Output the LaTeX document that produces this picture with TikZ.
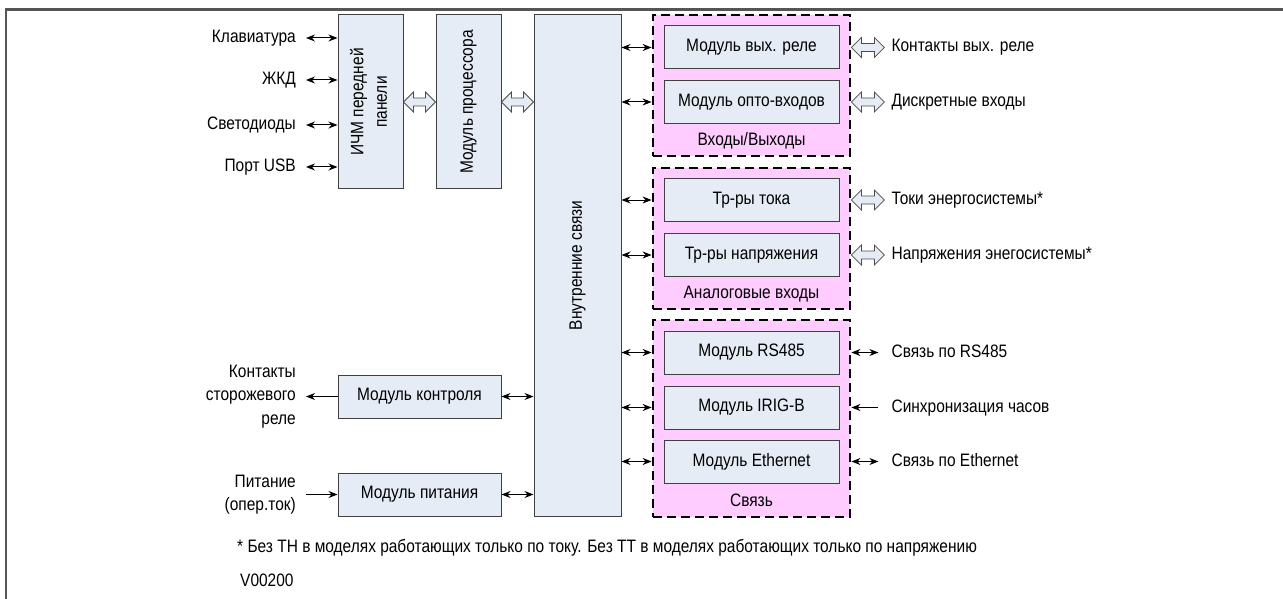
\documentclass[tikz,border=0pt]{standalone}
\usepackage{fontspec}
\setmainfont{Liberation Sans}[FakeStretch=0.86]
\usepackage{graphicx}
\usetikzlibrary{arrows.meta, calc}

\definecolor{blokfon}{HTML}{E6ECF5}
\definecolor{grupfon}{HTML}{FFCCFF}
\definecolor{ramka}{HTML}{555555}

% Широкая двусторонняя стрелка (шина)
\newcommand{\shina}[2]{%
  \draw[shinastyle] let \p1=(#1), \p2=(#2) in
    (\x1,\y1) -- (\x1+10pt,\y1+10pt) -- (\x1+10pt,\y1+4pt) -- (\x2-10pt,\y1+4pt)
    -- (\x2-10pt,\y1+10pt) -- (\x2,\y1) -- (\x2-10pt,\y1-10pt) -- (\x2-10pt,\y1-4pt)
    -- (\x1+10pt,\y1-4pt) -- (\x1+10pt,\y1-10pt) -- cycle;}

\begin{document}
\begin{tikzpicture}[
    x=1pt, y=-1pt,
    font=\fontsize{18}{23.5}\selectfont,
    >={Stealth[length=9pt,width=7pt]},
    blok/.style={draw=black!75, line width=1pt, fill=blokfon, inner sep=0pt,
        minimum width=175pt, minimum height=43pt},
    gruppa/.style={draw=black, line width=2.8pt, dash pattern=on 9pt off 5pt,
        fill=grupfon, inner sep=0pt, minimum width=197pt},
    metka/.style={inner xsep=10pt, inner ysep=0pt},
    stroka/.style={metka, text height=13pt, text depth=4pt},
    svyaz/.style={<->, line width=1pt},
    shinastyle/.style={draw=black!70, line width=0.8pt, fill=blokfon}
]

\useasboundingbox (0,0) rectangle (1283,599);

% Рамка
\draw[ramka, line width=2.4pt] (6,599) -- (6,9.5) -- (1283,9.5);

% Центральные блоки
\node[blok, minimum width=65pt, minimum height=174pt] (ichm) at (370.5,102)
    {\rotatebox{90}{\begin{tabular}{@{}c@{}}ИЧМ передней\\панели\end{tabular}}};
\node[blok, minimum width=65pt, minimum height=174pt] (cpu) at (468.5,102)
    {\rotatebox{90}{Модуль процессора}};
\node[blok, minimum width=87pt, minimum height=501pt] (vnutr) at (577.5,265.5)
    {\rotatebox{90}{Внутренние связи}};
\node[blok, minimum width=163pt] (kontrol) at (419.5,396.5) {Модуль контроля};
\node[blok, minimum width=163pt] (pitmod) at (419.5,494.5) {Модуль питания};

% Группы модулей
\node[gruppa, minimum height=141pt] (vv) at (751.5,85.5) {};
\node[gruppa, minimum height=141pt] (av) at (751.5,238.5) {};
\node[gruppa, minimum height=197pt] (sv) at (751.5,418.5) {};
\node[anchor=base] at ([yshift=12pt]vv.south) {Входы/Выходы};
\node[anchor=base] at ([yshift=12pt]av.south) {Аналоговые входы};
\node[anchor=base] at ([yshift=12pt]sv.south) {Связь};

\node[blok] (rele) at (751.5,47.5) {Модуль вых. реле};
\node[blok] (opto) at (751.5,102) {Модуль опто-входов};
\node[blok] (tt) at (751.5,200) {Тр-ры тока};
\node[blok] (tn) at (751.5,255) {Тр-ры напряжения};
\node[blok] (rs) at (751.5,352.5) {Модуль RS485};
\node[blok] (irig) at (751.5,407.5) {Модуль IRIG-B};
\node[blok] (eth) at (751.5,461.5) {Модуль Ethernet};

% Передняя панель
\node[stroka, anchor=east] (klav) at (306,38) {Клавиатура};
\node[stroka, anchor=east] (zhkd) at (306,80) {ЖКД};
\node[stroka, anchor=east] (svet) at (306,125) {Светодиоды};
\node[stroka, anchor=east] (usb) at (306,167) {Порт USB};
\foreach \m in {klav,zhkd,svet,usb}
    \draw[svyaz] (\m.east) -- (\m.east -| ichm.west);

\shina{ichm.east}{cpu.west}
\shina{cpu.east}{cpu.east -| vnutr.west}

% Внутренние связи -> группы
\foreach \m in {rele,opto,tt,tn,rs,irig,eth}
    \draw[svyaz] (vnutr.east |- \m) -- (vv.west |- \m);

% Выходы справа
\foreach \m/\t in {rele/{Контакты вых. реле}, opto/{Дискретные входы},
        tt/{Токи энергосистемы*}, tn/{Напряжения энегосистемы*}}{
    \node[stroka, anchor=west, inner xsep=7pt] (vyh-\m) at ($(vv.east |- \m)+(33,0)$) {\t};
    \shina{vv.east |- \m}{vyh-\m.west}
}
\foreach \m/\t in {rs/{Связь по RS485}, irig/{Синхронизация часов},
        eth/{Связь по Ethernet}}
    \node[stroka, anchor=west, inner xsep=13pt] (vyh-\m) at ($(sv.east |- \m)+(27,0)$) {\t};
\draw[svyaz] (sv.east |- rs) -- (vyh-rs.west);
\draw[<-, line width=1pt] (sv.east |- irig) -- (vyh-irig.west);
\draw[svyaz] (sv.east |- eth) -- (vyh-eth.west);

% Контроль и питание
\node[metka, anchor=east, align=right] (storozh) at (306,396.5) {Контакты\\сторожевого\\реле};
\draw[->, line width=1pt] (kontrol.west) -- (storozh.east);
\draw[svyaz] (kontrol.east) -- (kontrol.east -| vnutr.west);
\node[metka, anchor=east, align=right] (pitanie) at (306,494.5) {Питание\\(опер.ток)};
\draw[->, line width=1pt] (pitanie.east) -- (pitmod.west);
\draw[svyaz] (pitmod.east) -- (pitmod.east -| vnutr.west);

% Примечание
\node[anchor=base west, inner sep=0pt] (primech) at (237,552)
    {* Без ТН в моделях работающих только по току. Без ТТ в моделях работающих только по напряжению};
\node[anchor=base west, inner sep=0pt] (nomer) at (240,586) {V00200};

\end{tikzpicture}
\end{document}
